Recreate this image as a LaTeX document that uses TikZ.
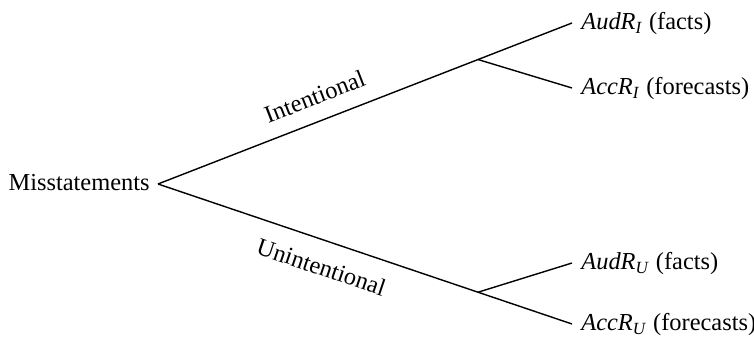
\documentclass[tikz,border=0pt]{standalone}
\usepackage{fontspec}
\setmainfont{Liberation Serif}
\begin{document}
\begin{tikzpicture}[x=0.5pt,y=-0.5pt,
  font=\fontsize{12.2}{14}\selectfont,
  edge/.style={line width=0.7pt},
  leaf/.style={anchor=west, inner xsep=4.5pt, inner ysep=0pt, text height=0.662em, text depth=0pt},
  rootnode/.style={anchor=east, inner xsep=4pt, inner ysep=0pt, text height=0.662em, text depth=0pt},
  lblabove/.style={sloped, above=7.75pt, inner sep=0pt},
  lblbelow/.style={sloped, below=8.5pt, inner sep=0pt}]
\useasboundingbox (0,0) rectangle (754,341);
\node[rootnode] (m) at (158,184) {Misstatements};
\node[leaf] (ai) at (572,23) {\textit{AudR}\textsubscript{\textit{I}} (facts)};
\node[leaf] (ci) at (572,88) {\textit{AccR}\textsubscript{\textit{I}} (forecasts)};
\node[leaf] (au) at (572,263) {\textit{AudR}\textsubscript{\textit{U}} (facts)};
\node[leaf] (cu) at (572,324) {\textit{AccR}\textsubscript{\textit{U}} (forecasts)};
\draw[edge] (m.east) -- node[lblabove, pos=0.40] {Intentional} coordinate[pos=0.773] (bi) (ai.west);
\draw[edge] (m.east) -- node[lblbelow, pos=0.415] {Unintentional} coordinate[pos=0.773] (bu) (cu.west);
\draw[edge] (bi) -- (ci.west);
\draw[edge] (bu) -- (au.west);
\end{tikzpicture}
\end{document}
